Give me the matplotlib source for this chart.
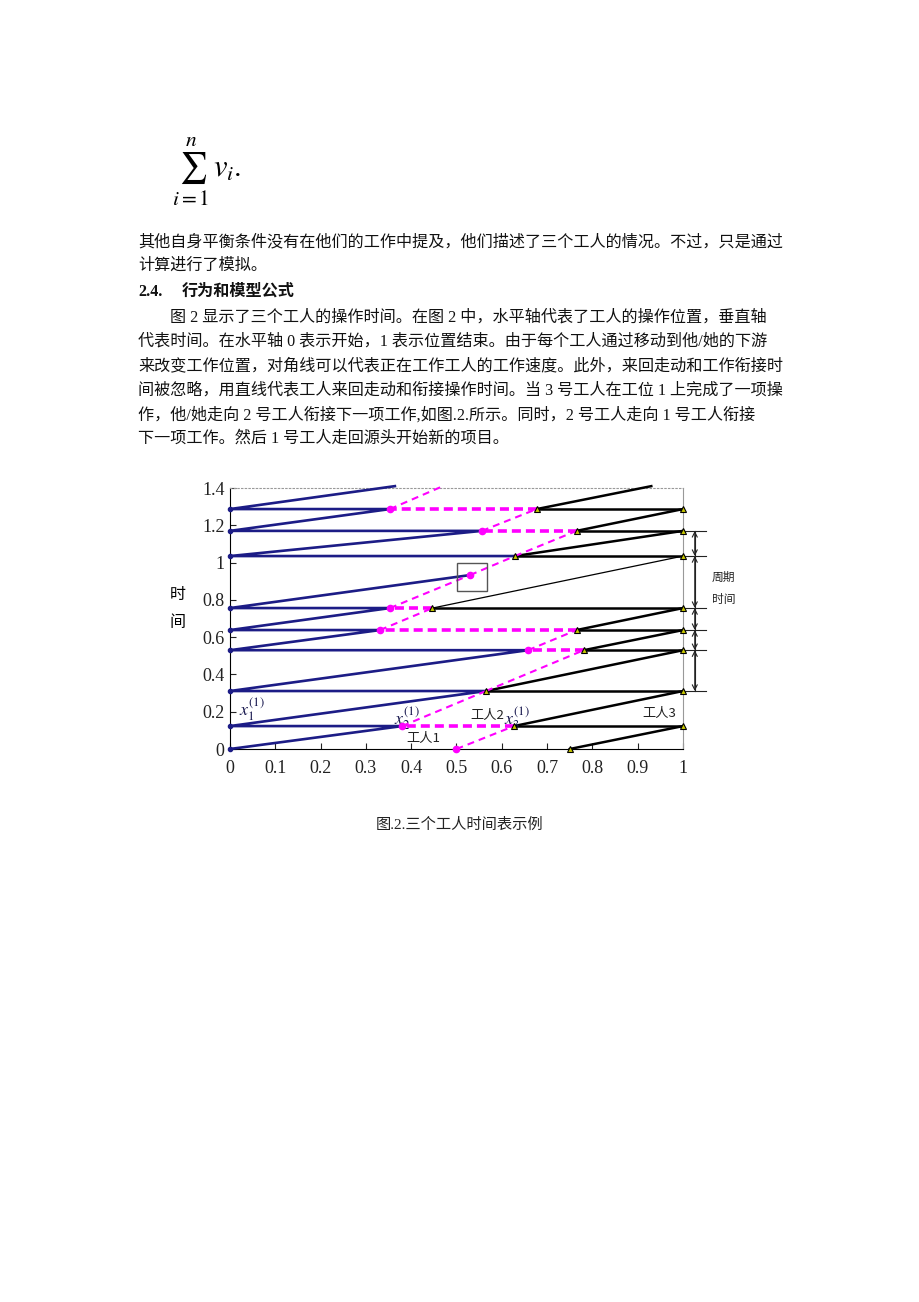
import matplotlib
matplotlib.use("Agg")
import matplotlib.pyplot as plt
from matplotlib.patches import Rectangle

W, H = 920, 1302
CJK = ["Noto Sans CJK SC", "DejaVu Sans"]
BODY = ["Liberation Serif", "Noto Sans CJK SC", "DejaVu Sans"]
SERIF = ["Liberation Serif", "DejaVu Serif"]

# ---- page text ----
intro_lines = [
    "其他自身平衡条件没有在他们的工作中提及，他们描述了三个工人的情况。不过，只是通过",
    "计算进行了模拟。",
]
heading_num = "2.4."
heading_txt = "行为和模型公式"
para_lines = [
    "图 2 显示了三个工人的操作时间。在图 2 中，水平轴代表了工人的操作位置，垂直轴",
    "代表时间。在水平轴 0 表示开始，1 表示位置结束。由于每个工人通过移动到他/她的下游",
    "来改变工作位置，对角线可以代表正在工作工人的工作速度。此外，来回走动和工作衔接时",
    "间被忽略，用直线代表工人来回走动和衔接操作时间。当 3 号工人在工位 1 上完成了一项操",
    "作，他/她走向 2 号工人衔接下一项工作,如图.2.所示。同时，2 号工人走向 1 号工人衔接",
    "下一项工作。然后 1 号工人走回源头开始新的项目。",
]
caption = "图.2.三个工人时间表示例"

# ---- chart data (position x, time t) ----
w1_x = [0, 0.38, 0, 0.565, 0, 0.658, 0, 0.331, 0, 0.353, 0, 0.53,
        None, 0.629, 0, 0.556, 0, 0.353, 0, 0.364]
w1_t = [0, 0.123, 0.123, 0.311, 0.311, 0.53, 0.53, 0.638, 0.638, 0.756, 0.756, 0.933,
        None, 1.035, 1.035, 1.17, 1.17, 1.287, 1.287, 1.41]

w2_x = [0.5, 0.627, 0.38, 0.565, 0.781, 0.658, 0.765, 0.331, 0.447, 0.353,
        0.53, 0.629, 0.765, 0.556, 0.677, 0.353, 0.47]
w2_t = [0, 0.123, 0.123, 0.311, 0.53, 0.53, 0.638, 0.638, 0.756, 0.756,
        0.933, 1.035, 1.17, 1.17, 1.287, 1.287, 1.41]

w3_x = [0.75, 1, 0.627, 1, 0.565, 1, 0.781, 1, 0.765, 1, 0.447,
        1, 0.629, 1, 0.765, 1, 0.677, 0.93]
w3_t = [0, 0.123, 0.123, 0.311, 0.311, 0.53, 0.53, 0.638, 0.638, 0.756, 0.756,
        1.035, 1.035, 1.17, 1.17, 1.287, 1.287, 1.41]
w3_thin_segment = 10

start_t = [0, 0.123, 0.311, 0.53, 0.638, 0.756, 1.035, 1.17, 1.287]
dot_x = [0.5, 0.38, 0.658, 0.331, 0.353, 0.53, 0.556, 0.353]
dot_t = [0, 0.123, 0.53, 0.638, 0.756, 0.933, 1.17, 1.287]
tri_x = [0.75, 0.627, 0.565, 0.781, 0.765, 0.447, 0.629, 0.765, 0.677,
         1, 1, 1, 1, 1, 1, 1, 1]
tri_t = [0, 0.123, 0.311, 0.53, 0.638, 0.756, 1.035, 1.17, 1.287,
         0.123, 0.311, 0.53, 0.638, 0.756, 1.035, 1.17, 1.287]

period_t = [1.17, 1.035, 0.756, 0.638, 0.53, 0.311]
box_x, box_t, box_w, box_h = 0.501, 0.848, 0.066, 0.15

x_ticks = [0, 0.1, 0.2, 0.3, 0.4, 0.5, 0.6, 0.7, 0.8, 0.9, 1]
x_labels = ["0", "0.1", "0.2", "0.3", "0.4", "0.5", "0.6", "0.7", "0.8", "0.9", "1"]
y_ticks = [0, 0.2, 0.4, 0.6, 0.8, 1.0, 1.2, 1.4]
y_labels = ["0", "0.2", "0.4", "0.6", "0.8", "1", "1.2", "1.4"]

BLUE = "#1c1c86"
MAGENTA = "#ff00ff"

plt.rcParams["mathtext.fontset"] = "stix"
plt.rcParams["lines.scale_dashes"] = False


def fx(px):
    return px / W


def fy(py):
    return 1 - py / H


fig = plt.figure(figsize=(W / 100, H / 100), dpi=100)
fig.patch.set_facecolor("white")

# formula
fig.text(fx(172), fy(172), r"$\sum_{i=1}^{n}\,v_i.$", fontsize=22, va="center", ha="left")

# body text
text_kw = dict(fontsize=11.6, family=BODY, va="center", ha="left", color="#111111")
fig.text(fx(138), fy(242), intro_lines[0], **text_kw)
fig.text(fx(138), fy(266), intro_lines[1], **text_kw)
fig.text(fx(138), fy(292), heading_num, weight="bold", **text_kw)
fig.text(fx(182), fy(292), heading_txt, weight="bold", **text_kw)
para_y = [318, 342, 366, 391, 415, 439]
for i, (line, py) in enumerate(zip(para_lines, para_y)):
    fig.text(fx(170 if i == 0 else 138), fy(py), line, **text_kw)

fig.text(fx(460), fy(825), caption, fontsize=11, family=BODY, ha="center", va="center",
         color="#222222")

# ---- chart ----
ax = fig.add_axes([fx(230), fy(749), fx(683) - fx(230), fy(488) - fy(749)])
ax.set_xlim(0, 1)
ax.set_ylim(0, 1.4)

# worker 1 (blue solid)
ax.plot([v if v is not None else float("nan") for v in w1_x],
        [v if v is not None else float("nan") for v in w1_t],
        color=BLUE, lw=1.9, clip_on=False, zorder=3)

# worker 2 (magenta dashed)
for i in range(len(w2_x) - 1):
    x0, x1 = w2_x[i], w2_x[i + 1]
    t0, t1 = w2_t[i], w2_t[i + 1]
    if t0 == t1:
        ax.plot([x0, x1], [t0, t1], color=MAGENTA, lw=2.6, dashes=(6.5, 3.6),
                clip_on=False, zorder=4)
    else:
        ax.plot([x0, x1], [t0, t1], color=MAGENTA, lw=1.5, dashes=(5, 3.6),
                clip_on=False, zorder=4)

# worker 3 (black)
for i in range(len(w3_x) - 1):
    lw = 0.9 if i == w3_thin_segment else 1.8
    ax.plot(w3_x[i:i + 2], w3_t[i:i + 2], color="black", lw=lw, clip_on=False, zorder=3)

ax.plot([0] * len(start_t), start_t, "o", ms=3, color=BLUE, clip_on=False, zorder=5)
ax.plot(dot_x, dot_t, "o", ms=4.5, color=MAGENTA, mec=MAGENTA, clip_on=False, zorder=6)
ax.plot(tri_x, tri_t, "^", ms=4.5, mfc="#c8c800", mec="black", mew=0.8,
        clip_on=False, zorder=6)

ax.add_patch(Rectangle((box_x, box_t), box_w, box_h, fill=False, ec="#555555", lw=1.0,
                       zorder=6))

# cycle time brackets on the right
for t in period_t:
    ax.plot([1, 1.05], [t, t], color="#222222", lw=0.8, clip_on=False)
ax.plot([1.026, 1.026], [min(period_t), max(period_t)], color="#222222", lw=0.8,
        clip_on=False)
for hi, lo in zip(period_t[:-1], period_t[1:]):
    ax.annotate("", xy=(1.026, lo), xytext=(1.026, hi), annotation_clip=False,
                arrowprops=dict(arrowstyle="<->", lw=0.8, color="#222222",
                                shrinkA=0, shrinkB=0, mutation_scale=9))
fig.text(fx(712), fy(577), "周期", fontsize=8.5, family=CJK, va="center", color="#222222")
fig.text(fx(712), fy(599), "时间", fontsize=8.5, family=CJK, va="center", color="#222222")

# point labels
lab_kw = dict(fontsize=13, family=SERIF, color="#1a1a50")
ax.text(0.02, 0.18, r"$x_1^{(1)}$", **lab_kw)
ax.text(0.362, 0.13, r"$x_2^{(1)}$", **lab_kw)
ax.text(0.605, 0.13, r"$x_3^{(1)}$", **lab_kw)
ax.text(0.39, 0.04, "工人1", fontsize=9.5, family=CJK, color="#222222")
ax.text(0.53, 0.16, "工人2", fontsize=9.5, family=CJK, color="#222222")
ax.text(0.91, 0.17, "工人3", fontsize=9.5, family=CJK, color="#222222")

# axes styling
ax.spines["left"].set_color("black")
ax.spines["bottom"].set_color("black")
ax.spines["top"].set_color("#999999")
ax.spines["top"].set_linestyle(":")
ax.spines["right"].set_color("#999999")
ax.spines["right"].set_linewidth(0.8)
ax.set_xticks(x_ticks)
ax.set_xticklabels(x_labels, family=SERIF, fontsize=13)
ax.set_yticks(y_ticks)
ax.set_yticklabels(y_labels, family=SERIF, fontsize=13)
ax.tick_params(axis="x", direction="in", length=4, pad=8, colors="#222222")
ax.tick_params(axis="y", direction="in", length=4, pad=4, colors="#222222")

fig.text(fx(178), fy(594), "时", fontsize=11.5, family=CJK, ha="center", va="center")
fig.text(fx(178), fy(622), "间", fontsize=11.5, family=CJK, ha="center", va="center")

fig.savefig("out.png", dpi=100, facecolor="white")
